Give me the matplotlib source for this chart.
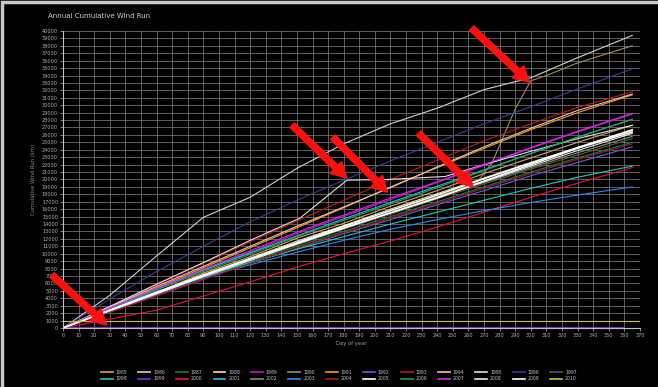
import matplotlib
matplotlib.use("Agg")
from matplotlib import pyplot as plt
from matplotlib.patches import Rectangle

# ---- data (cumulative wind run, km) ----
days = [0, 30, 60, 90, 120, 150, 180, 210, 240, 270, 300, 330, 365]

y1985 = [0, 2500, 4800, 7400, 9600, 12100, 14100, 16400, 18500, 20800, 22900, 25000, 27300]
y1986 = [0, 4400, 9700, 14900, 17600, 21500, 24800, 27500, 29600, 32100, 33700, 36400, 39400]
y1987 = [0, 2300, 4600, 6800, 8900, 11000, 13000, 15000, 17000, 19000, 21000, 22900, 25000]
y1988 = [0, 2400, 4800, 7200, 9400, 11700, 13800, 16000, 18100, 20200, 22300, 24300, 26600]
y1989 = [0, 2600, 5200, 7800, 10200, 12700, 15000, 17300, 19600, 21900, 24200, 26400, 28800]
days_1990 = [0, 30, 60, 90, 120, 150, 180, 210, 240, 265, 275, 290, 300, 310, 330, 365]
y1990 = [0, 2300, 4600, 6900, 9100, 11300, 13500, 15600, 17700, 19500, 22200, 29500, 33300, 34000, 35700, 38000]
y1991 = [0, 2700, 5400, 8100, 10800, 13500, 16200, 19000, 21600, 24200, 26700, 29000, 31400]
y1992 = [0, 2200, 4400, 6600, 8700, 10700, 12700, 14600, 16600, 18500, 20500, 22300, 24400]
y1993 = [0, 2900, 5800, 8700, 11600, 14400, 17200, 20000, 22600, 25200, 27500, 29700, 31800]
y1994 = [0, 2800, 5600, 8300, 11000, 13700, 16300, 18900, 21700, 24400, 26900, 29300, 31500]
days_1995 = [0, 30, 60, 90, 120, 152, 182, 208, 245, 270, 300, 330, 365]
y1995 = [0, 2900, 5900, 8800, 11800, 14800, 19900, 20000, 20400, 22000, 23800, 25500, 27300]
y1996 = [0, 3900, 7600, 11000, 14300, 17200, 19900, 22500, 25000, 27500, 29800, 32200, 34900]
y1997 = [0, 2300, 4600, 6900, 9100, 11200, 13300, 15300, 17400, 19400, 21400, 23300, 25500]
y1998 = [0, 2600, 4900, 7000, 8800, 10600, 12300, 14000, 15600, 17200, 18800, 20300, 21800]
days_1999 = [0, 360]
y1999 = [150, 150]
y2000 = [0, 1200, 2400, 4300, 6200, 8200, 10000, 11700, 13600, 15600, 17600, 19500, 21600]
y2001 = [0, 2700, 5300, 7800, 10100, 12400, 14700, 16900, 19100, 21300, 23500, 25700, 28100]
y2002 = [0, 2300, 4600, 6900, 9100, 11300, 13400, 15500, 17600, 19600, 21600, 23600, 25800]
y2003 = [0, 2600, 4800, 6800, 8500, 10200, 11800, 13300, 14600, 15800, 16900, 17900, 19000]
y2004 = [0, 2100, 4300, 6500, 8700, 10800, 12800, 14800, 16800, 18800, 20800, 22700, 24800]
y2005 = [0, 2400, 4700, 7000, 9300, 11500, 13700, 15800, 17900, 20100, 22200, 24300, 26700]
y2006 = [0, 2600, 5100, 7600, 9900, 12300, 14500, 16700, 18900, 21200, 23500, 25700, 28100]
y2007 = [0, 2700, 5300, 7900, 10400, 12900, 15200, 17500, 19700, 22000, 24300, 26500, 28900]
y2008 = [0, 2300, 4600, 6900, 9100, 11300, 13400, 15500, 17600, 19700, 21800, 23900, 26200]
y2009 = [0, 2400, 4800, 7100, 9300, 11400, 13500, 15500, 17500, 19800, 22000, 24200, 26400]
days_2010 = [0, 370]
y2010 = [950, 950]

years = list(range(1985, 2011))
series = {
    1985: (days, y1985), 1986: (days, y1986), 1987: (days, y1987), 1988: (days, y1988),
    1989: (days, y1989), 1990: (days_1990, y1990), 1991: (days, y1991), 1992: (days, y1992),
    1993: (days, y1993), 1994: (days, y1994), 1995: (days_1995, y1995), 1996: (days, y1996),
    1997: (days, y1997), 1998: (days, y1998), 1999: (days_1999, y1999), 2000: (days, y2000),
    2001: (days, y2001), 2002: (days, y2002), 2003: (days, y2003), 2004: (days, y2004),
    2005: (days, y2005), 2006: (days, y2006), 2007: (days, y2007), 2008: (days, y2008),
    2009: (days, y2009), 2010: (days_2010, y2010),
}
colors = {
    1985: '#d9a55a', 1986: '#d0d0d0', 1987: '#1f7a3a', 1988: '#f2e6a0', 1989: '#c020c0',
    1990: '#a08c5a', 1991: '#f0a020', 1992: '#6a5ae0', 1993: '#c01818', 1994: '#f0c0b0',
    1995: '#e0e0e0', 1996: '#3c3c90', 1997: '#5a5a48', 1998: '#20c8b8', 1999: '#7a30c8',
    2000: '#e8103a', 2001: '#20c0e0', 2002: '#8a8a78', 2003: '#2a88f0', 2004: '#a01818',
    2005: '#ffffff', 2006: '#20a050', 2007: '#e020f0', 2008: '#e8e8e8', 2009: '#ffffff',
    2010: '#c8c040',
}

# red arrows (tail -> tip), in data units
arrow_tails = [(-7, 7130), (147, 27300), (173, 25700), (228, 26250), (262, 40380)]
arrow_tips = [(28, 400), (182, 20190), (208, 18300), (263, 18980), (299, 33100)]

#   Figure
fig = plt.figure(figsize=(6.58, 3.87), dpi=100, facecolor='black')
ax = fig.add_axes([0.0957, 0.1525, 0.877, 0.7675], facecolor='black')

handles = {}
for yr in years:
    d, v = series[yr]
    lw = 1.1 if colors[yr] == '#ffffff' else 0.8
    h, = ax.plot(d, v, color=colors[yr], linewidth=lw, label=str(yr))
    handles[yr] = h

for tail, tip in zip(arrow_tails, arrow_tips):
    ax.annotate('', xy=tip, xytext=tail, annotation_clip=False,
                arrowprops=dict(facecolor='#ff1010', edgecolor='#ff1010',
                                width=4.5, headwidth=12, headlength=11))

ax.set_xlim(0, 370)
ax.set_ylim(0, 40000)
ax.set_xticks(range(0, 371, 10))
ax.set_yticks(range(0, 40001, 1000))
ax.tick_params(colors='#b0b0b0', labelsize=3.6, length=2, width=0.5, pad=1.5)
ax.grid(True, color='#858585', linewidth=0.5)
for s in ax.spines.values():
    s.set_visible(False)
ax.spines['left'].set_visible(True)
ax.spines['bottom'].set_visible(True)
ax.spines['left'].set_color('#c0c0c0')
ax.spines['bottom'].set_color('#c0c0c0')

ax.set_xlabel('Day of year', color='#a0a0a0', fontsize=3.8, labelpad=2)
ax.set_ylabel('Cumulative Wind Run (km)', color='#8a8a8a', fontsize=3.8, labelpad=4)
fig.text(0.073, 0.958, 'Annual Cumulative Wind Run', color='#d0d0d0', fontsize=5, va='center')

# legend: two rows, 1985-1997 on top, 1998-2010 below
order = []
for i in range(13):
    order += [years[i], years[i + 13]]
leg = fig.legend([handles[y] for y in order], [str(y) for y in order], ncol=13,
                 loc='center', bbox_to_anchor=(0.515, 0.029), frameon=False,
                 fontsize=3.3, handlelength=2.6, columnspacing=2.4, handletextpad=0.6,
                 labelspacing=0.3, labelcolor='#c0c0c0', borderpad=0.1)
for ln in leg.get_lines():
    ln.set_linewidth(1.2)

# light frame on left/top edge of the screenshot
fig.patches.append(Rectangle((0.003, -0.5), 1.5, 1.495, transform=fig.transFigure,
                             fill=False, edgecolor='#c8c8c8', linewidth=2.5))

fig.savefig('out.png', dpi=100, facecolor='black')
